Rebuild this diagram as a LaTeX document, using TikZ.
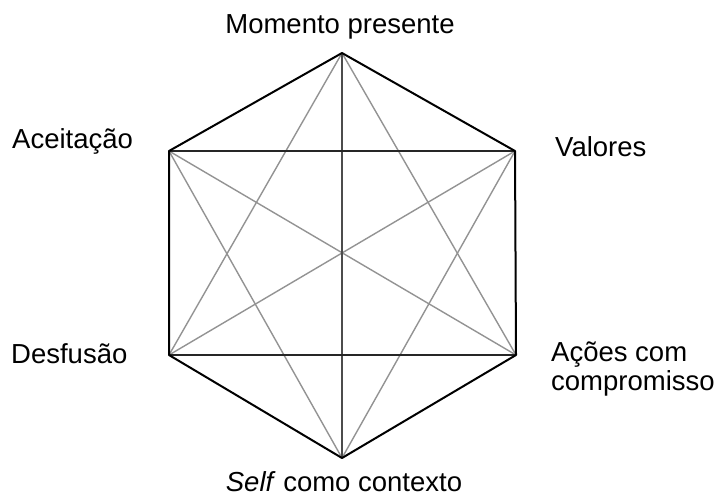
\documentclass[tikz,border=0pt]{standalone}
\usepackage{fontspec}
\setmainfont{Liberation Sans}
\usetikzlibrary{positioning}

\begin{document}
\begin{tikzpicture}[x=1pt,y=-1pt,
  rim/.style={black,line width=2pt,line join=round},
  chord/.style={black!85,line width=1.7pt},
  spoke/.style={gray!85,line width=1.4pt},
  lbl/.style={font=\fontsize{27.5}{29}\selectfont,inner sep=0pt}]
 \useasboundingbox (0,0) rectangle (722,499);
 % --- vertices ---
 \coordinate (mp) at (342,53);
 \coordinate (va) at (515,151);
 \coordinate (ac) at (516,355);
 \coordinate (sc) at (342,458);
 \coordinate (de) at (169,355);
 \coordinate (ce) at (169,151);
 % --- diagonals ---
 \foreach \a/\b in {mp/de,mp/ac,sc/ce,sc/va,ce/ac,va/de} \draw[spoke] (\a)--(\b);
 \draw[spoke,gray!60!black] (mp)--(sc);
 \draw[chord] (ce)--(va);
 \draw[chord] (de)--(ac);
 % --- hexagon ---
 \draw[rim] (mp)--(va)--(ac)--(sc)--(de)--(ce)--cycle;
 % --- labels ---
 \node[lbl,anchor=base] (tmp) at (340,33) {Momento presente};
 \node[lbl,anchor=base west] (tva) at (555,156) {Valores};
 \node[lbl,anchor=base west] (tce) at (12,148) {Aceitação};
 \node[lbl,anchor=base west] (tde) at (11,363) {Desfusão};
 \node[lbl,anchor=west,align=left] (tac) at (551,369) {Ações com\\compromisso};
 \node[lbl,anchor=base] (tsc) at (344,491) {\textit{Self} como contexto};
\end{tikzpicture}
\end{document}
